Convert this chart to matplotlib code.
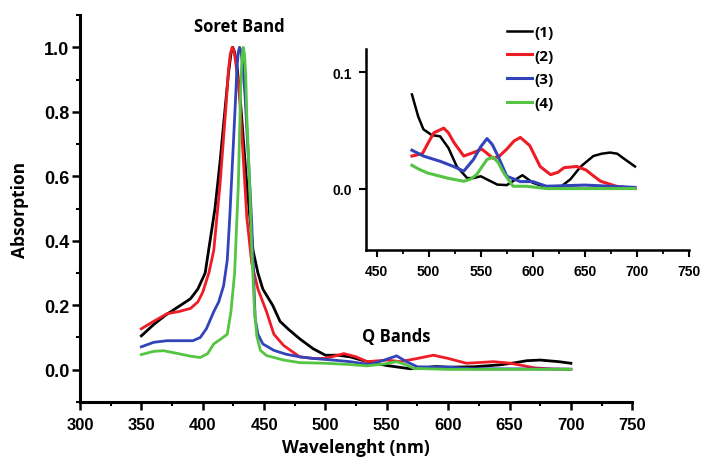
import numpy as np
import matplotlib
matplotlib.use('Agg')
import matplotlib.pyplot as plt
from matplotlib.ticker import MultipleLocator

# espectro completo (normalizado)
wl1 = [350, 360, 370, 376, 382, 390, 396, 402, 406, 410, 414, 418, 421, 423, 424.5, 426, 428, 431, 436, 441, 445, 449, 457, 463, 470, 479,
       490, 500, 510, 520, 534, 550, 569, 580, 590, 600, 620, 642, 655, 664, 675, 690, 700]
ab1 = [0.105, 0.14, 0.17, 0.185, 0.2, 0.22, 0.25, 0.3, 0.4, 0.5, 0.64, 0.8, 0.92, 0.98, 1.0, 0.985, 0.94, 0.82, 0.57, 0.37, 0.3, 0.25, 0.2, 0.15, 0.125, 0.096,
       0.065, 0.045, 0.045, 0.04, 0.025, 0.013, 0.003, 0.006, 0.01, 0.008, 0.009, 0.015, 0.022, 0.028, 0.03, 0.025, 0.02]

wl2 = [350, 360, 371, 380, 390, 396, 400, 405, 409, 414, 419, 421, 422.5, 424, 425.5, 427, 430, 436, 440, 445, 452, 458, 466, 479,
       490, 500, 515, 525, 534, 550, 561, 575, 588, 600, 615, 637, 651, 670, 685, 700]
ab2 = [0.127, 0.15, 0.174, 0.18, 0.19, 0.21, 0.24, 0.3, 0.37, 0.57, 0.82, 0.93, 0.98, 1.0, 0.99, 0.95, 0.85, 0.47, 0.33, 0.25, 0.18, 0.11, 0.075, 0.04,
       0.035, 0.035, 0.05, 0.04, 0.025, 0.03, 0.025, 0.035, 0.045, 0.035, 0.02, 0.025, 0.02, 0.006, 0.002, 0.001]

wl3 = [350, 360, 371, 381, 392, 398, 403, 409, 413, 417, 420, 422, 426, 428, 429, 430, 431, 432.5, 434.5, 438, 440, 442.7, 445, 449,
       458, 468, 479, 490, 506, 520, 536, 548, 558, 566, 575, 600, 620, 700]
ab3 = [0.071, 0.085, 0.09, 0.09, 0.09, 0.1, 0.127, 0.18, 0.21, 0.26, 0.34, 0.47, 0.78, 0.94, 0.985, 1.0, 0.99, 0.95, 0.85, 0.6, 0.45, 0.16, 0.11, 0.08,
       0.06, 0.048, 0.04, 0.035, 0.03, 0.025, 0.016, 0.03, 0.043, 0.025, 0.009, 0.008, 0.003, 0.002]

wl4 = [350, 360, 368, 380, 390, 398, 404, 409, 415, 420, 423, 426, 429, 431, 432, 433, 434, 435, 436, 438, 440, 442, 444, 447,
       452, 466, 479, 500, 520, 534, 548, 558, 566, 572, 600, 700]
ab4 = [0.047, 0.057, 0.059, 0.05, 0.042, 0.038, 0.05, 0.08, 0.096, 0.11, 0.18, 0.3, 0.57, 0.88, 0.97, 1.0, 0.98, 0.92, 0.78, 0.6, 0.37, 0.2, 0.106, 0.06,
       0.044, 0.03, 0.022, 0.02, 0.016, 0.012, 0.018, 0.025, 0.015, 0.004, 0.001, 0.001]

# detalhe das bandas Q (inset)
q_wl1 = [484, 490, 495, 503, 511, 519, 527, 537, 543, 550, 558, 566, 575, 582, 590, 600, 610, 617, 626, 636, 646, 658, 666, 674, 681, 687, 698]
q_ab1 = [0.081, 0.062, 0.051, 0.046, 0.045, 0.035, 0.019, 0.009, 0.009, 0.0106, 0.007, 0.0034, 0.003, 0.007, 0.0115, 0.005, 0.002, 0.001, 0.001, 0.008, 0.019, 0.028, 0.03, 0.031, 0.03, 0.026, 0.019]

q_wl2 = [484, 494, 500, 505, 514.5, 519, 524, 533.7, 543, 551, 562, 568, 575, 582, 588, 597, 607, 617, 624, 630, 642, 651, 658, 665, 680, 698]
q_ab2 = [0.028, 0.03, 0.04, 0.048, 0.052, 0.048, 0.04, 0.028, 0.031, 0.034, 0.026, 0.028, 0.034, 0.041, 0.044, 0.037, 0.019, 0.012, 0.014, 0.018, 0.019, 0.016, 0.011, 0.0063, 0.002, 0.0]

q_wl3 = [484, 495, 511, 524, 533.7, 543, 550, 556, 561, 566, 575, 588, 600, 613, 650, 698]
q_ab3 = [0.033, 0.028, 0.0235, 0.019, 0.015, 0.025, 0.036, 0.043, 0.038, 0.029, 0.0106, 0.006, 0.006, 0.002, 0.003, 0.001]

q_wl4 = [484, 490, 498.6, 518, 533.7, 540, 546, 556, 562, 567, 572, 581, 594, 613, 650, 698]
q_ab4 = [0.02, 0.017, 0.0135, 0.009, 0.0063, 0.008, 0.012, 0.025, 0.027, 0.022, 0.0135, 0.002, 0.002, 0.0, 0.0, 0.0]

rotulos = ['(1)', '(2)', '(3)', '(4)']
cores = ['black', '#ee1c24', '#3344bb', '#55c443']

fonte_rot = 'Open Sans'
fonte_num = 'Liberation Sans'

fig = plt.figure(figsize=(7.04, 4.6), dpi=100)

# grafico principal
ax = fig.add_axes([0.1136, 0.124, 0.7845, 0.841])
for w, a, c in zip([wl1, wl2, wl3, wl4], [ab1, ab2, ab3, ab4], cores):
    ax.plot(w, a, color=c, lw=2.0, solid_joinstyle='round')

ax.set_xlim(300, 750)
ax.set_ylim(-0.1, 1.1)
ax.xaxis.set_major_locator(MultipleLocator(50))
ax.xaxis.set_minor_locator(MultipleLocator(25))
ax.yaxis.set_major_locator(MultipleLocator(0.2))
ax.yaxis.set_minor_locator(MultipleLocator(0.1))
ax.set_yticks([0.0, 0.2, 0.4, 0.6, 0.8, 1.0])
ax.spines['top'].set_visible(False)
ax.spines['right'].set_visible(False)
for s in ['left', 'bottom']:
    ax.spines[s].set_linewidth(2.2)
ax.tick_params(which='major', direction='out', length=5.5, width=1.8)
ax.tick_params(which='minor', direction='out', length=3, width=1.5)
ax.tick_params(axis='x', which='major', pad=5)
ax.tick_params(axis='y', which='major', pad=2)
for lab in ax.get_xticklabels():
    lab.set_fontfamily(fonte_num)
    lab.set_fontweight('bold')
    lab.set_fontsize(12)
for lab in ax.get_yticklabels():
    lab.set_fontfamily(fonte_num)
    lab.set_fontweight('bold')
    lab.set_fontsize(13)

ax.set_xlabel('Wavelenght (nm)', fontfamily=fonte_rot, fontweight='bold', fontsize=12.5, labelpad=5)
ax.set_ylabel('Absorption', fontfamily=fonte_rot, fontweight='bold', fontsize=12.5, labelpad=11)

ax.text(430, 1.065, 'Soret Band', fontfamily=fonte_rot, fontweight='bold', fontsize=12,
        ha='center', va='center')
ax.text(558, 0.105, 'Q Bands', fontfamily=fonte_rot, fontweight='bold', fontsize=12,
        ha='center', va='center')

# inset
axi = fig.add_axes([0.52, 0.454, 0.459, 0.437])
linhas = []
for w, a, c, r, lw in zip([q_wl1, q_wl2, q_wl3, q_wl4], [q_ab1, q_ab2, q_ab3, q_ab4], cores, rotulos, [1.8, 2.2, 2.2, 2.2]):
    ln, = axi.plot(w, a, color=c, lw=lw, label=r, solid_joinstyle='round')
    linhas.append(ln)

axi.set_xlim(440, 750)
axi.set_ylim(-0.053, 0.12)
axi.xaxis.set_major_locator(MultipleLocator(50))
axi.xaxis.set_minor_locator(MultipleLocator(25))
axi.set_yticks([0.0, 0.1])
axi.spines['top'].set_visible(False)
axi.spines['right'].set_visible(False)
for s in ['left', 'bottom']:
    axi.spines[s].set_linewidth(1.8)
axi.tick_params(which='major', direction='out', length=5, width=1.5, pad=5)
axi.tick_params(which='minor', direction='out', length=3, width=1.3)
for lab in axi.get_xticklabels() + axi.get_yticklabels():
    lab.set_fontfamily(fonte_num)
    lab.set_fontweight('bold')
    lab.set_fontsize(10)

fig.legend(handles=linhas, loc='upper left', bbox_to_anchor=(0.701, 0.973), frameon=False,
           prop={'family': fonte_rot, 'weight': 'bold', 'size': 11},
           handlelength=1.6, handletextpad=0.2, labelspacing=0.63)

fig.savefig('out.png', dpi=100)
